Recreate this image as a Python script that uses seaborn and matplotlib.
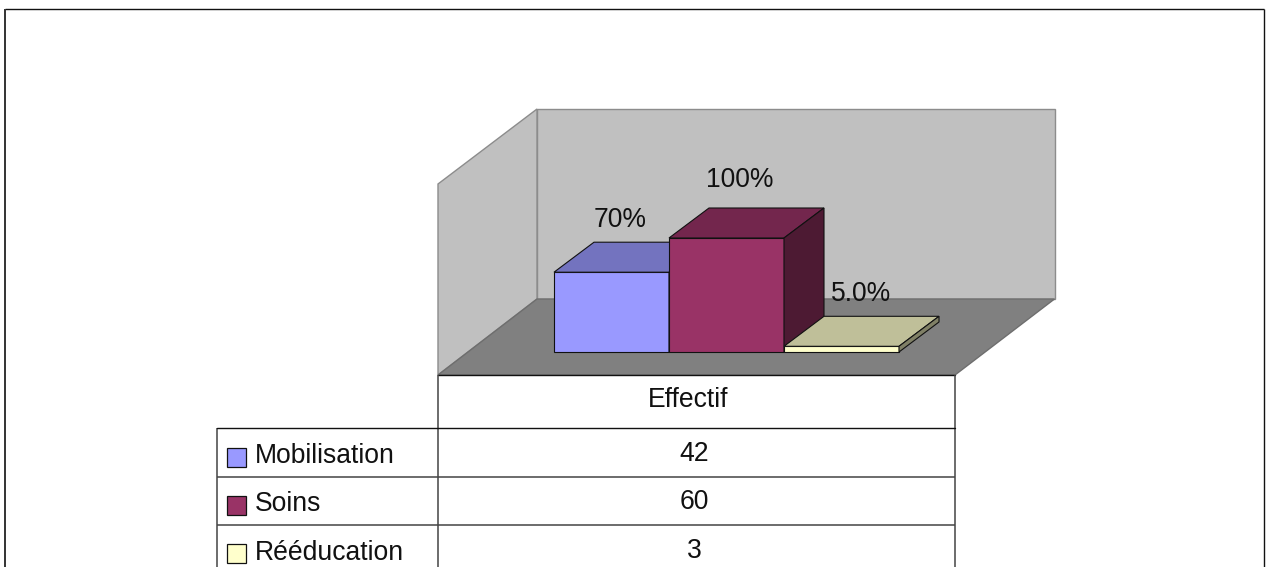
import matplotlib
matplotlib.use("Agg")
import matplotlib.pyplot as plt
from matplotlib.colors import to_rgb
from matplotlib.patches import Polygon, Rectangle
import seaborn as sns

categories = ["Mobilisation", "Soins", "Rééducation"]
percentages = [70, 100, 5]
percent_labels = ["70%", "100%", "5.0%"]
headcounts = [42, 60, 3]
column_title = "Effectif"
bar_colors = ["#9999FF", "#993366", "#FFFFCC"]

W, H = 1266, 567
sns.set_theme(style="white")
plt.rcParams["font.family"] = ["Liberation Sans", "DejaVu Sans"]
FS = 19.1

fig = plt.figure(figsize=(W / 100, H / 100), dpi=100, facecolor="white")

# Backdrop layer addressed in pixels from the top-left corner
bg = fig.add_axes([0, 0, 1, 1], zorder=1)
bg.set_xlim(0, W)
bg.set_ylim(H, 0)
bg.axis("off")

bg.plot([1264, 1264], [H, 9], color="#111111", lw=1.0, solid_capstyle="butt")
bg.plot([5, 1264], [9, 9], color="#111111", lw=1.0, solid_capstyle="butt")
bg.plot([5, 5], [H, 9], color="#333333", lw=1.4, solid_capstyle="butt")

# Walls and floor of the box
GRID = "#8C8C8C"
bg.add_patch(Polygon([(537, 109), (1054.5, 109), (1054.5, 299), (537, 299)],
                     fc="#C0C0C0", ec=GRID, lw=1))
bg.add_patch(Polygon([(438, 184), (537, 109), (537, 299), (438, 375)],
                     fc="#C0C0C0", ec=GRID, lw=1))
bg.add_patch(Polygon([(438, 375), (537, 299), (1054.5, 299), (955, 375)],
                     fc="#808080", ec="#6E6E6E", lw=1))

# Bars sit on an axes whose data range maps onto the front plane
bar_ax = fig.add_axes([554 / W, (H - 352) / H, 345 / W, 114 / H], zorder=2)
sns.barplot(x=categories, y=percentages, hue=categories, palette=bar_colors,
            width=1, legend=False, edgecolor="#111111", linewidth=0.8,
            saturation=1, ax=bar_ax)
bar_ax.set_xlim(-0.5, 2.5)
bar_ax.set_ylim(0, 100)
bar_ax.axis("off")
bar_ax.patch.set_alpha(0)

DEPTH_X = 40 / 115   # depth of a bar in category units
DEPTH_Y = 30 / 1.14  # depth of a bar in percentage units
LABEL_OFFSETS = [(-89, 22), (-84, 28), (-78, 22)]  # pixels, from the rear right top corner


def shade(color, factor):
    return tuple(c * factor for c in to_rgb(color))


for i, (rect, color) in enumerate(zip(bar_ax.patches, bar_colors)):
    x0, x1 = rect.get_x(), rect.get_x() + rect.get_width()
    top = rect.get_height()
    rect.set_zorder(3 + i)
    rect.set_clip_on(False)
    top_face = Polygon([(x0, top), (x0 + DEPTH_X, top + DEPTH_Y),
                        (x1 + DEPTH_X, top + DEPTH_Y), (x1, top)],
                       fc=shade(color, 0.75), ec="#111111", lw=0.8,
                       zorder=3 + i, clip_on=False)
    side_face = Polygon([(x1, 0), (x1, top), (x1 + DEPTH_X, top + DEPTH_Y),
                         (x1 + DEPTH_X, DEPTH_Y)],
                        fc=shade(color, 0.5), ec="#111111", lw=0.8,
                        zorder=3 + i, clip_on=False)
    bar_ax.add_patch(top_face)
    bar_ax.add_patch(side_face)
    dx, dy = LABEL_OFFSETS[i]
    bar_ax.annotate(percent_labels[i], (x1 + DEPTH_X, top + DEPTH_Y),
                    xytext=(dx * 0.72, dy * 0.72), textcoords="offset points",
                    ha="center", va="center", fontsize=FS, color="#111111",
                    zorder=10, annotation_clip=False)

# Data table beneath the box, with the legend keys in its first column
TABLE_LINE = dict(color="#444444", lw=1.1, solid_capstyle="butt")
tb = fig.add_axes([0, 0, 1, 1], zorder=3)
tb.set_xlim(0, W)
tb.set_ylim(H, 0)
tb.axis("off")
tb.patch.set_alpha(0)
tb.add_patch(Rectangle((438, 375), 517, H - 375, fc="white", ec="none"))
tb.plot([438, 955], [375, 375], color="#111111", lw=1.0)
tb.plot([438, 438], [375, H], **TABLE_LINE)
tb.plot([955, 955], [375, H], **TABLE_LINE)
tb.plot([217, 217], [428, H], **TABLE_LINE)
tb.plot([217, 955], [428, 428], color="#111111", lw=1.0)
tb.plot([217, 955], [477, 477], **TABLE_LINE)
tb.plot([217, 955], [525, 525], **TABLE_LINE)

tb.text(688, 400, column_title, ha="center", va="center", fontsize=FS, color="#111111")
SWATCH_TOPS = [448, 496, 544]
TEXT_Y = [456, 504, 553]
for name, count, color, sy, ty in zip(categories, headcounts, bar_colors, SWATCH_TOPS, TEXT_Y):
    tb.add_patch(Rectangle((226.5, sy), 19, 19, fc=color, ec="#111111", lw=0.9))
    tb.text(255, ty, name, ha="left", va="center", fontsize=FS, color="#111111")
    tb.text(694, ty - 2, str(count), ha="center", va="center", fontsize=FS, color="#111111")

fig.savefig("out.png", dpi=100, facecolor="white")
